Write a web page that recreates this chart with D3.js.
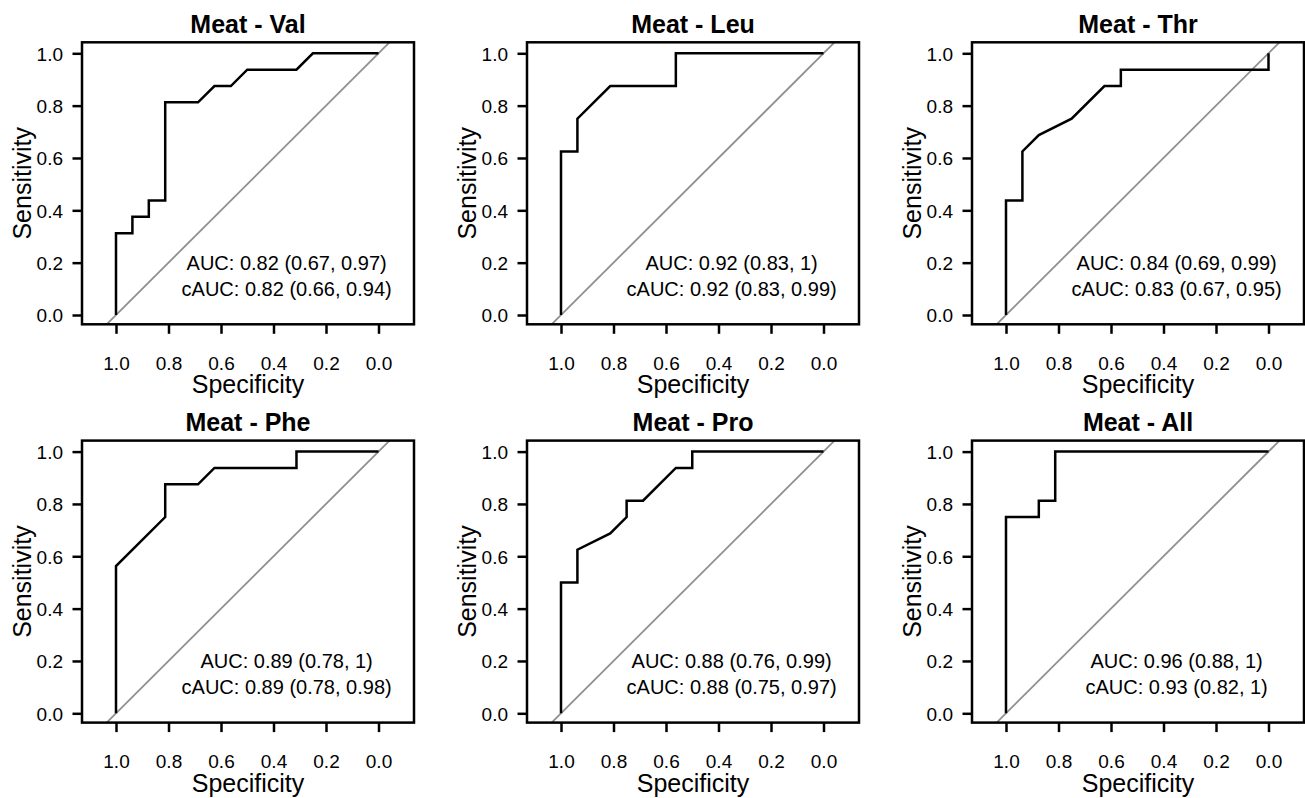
<!DOCTYPE html>
<html>
<head>
<meta charset="utf-8">
<script src="https://cdn.jsdelivr.net/npm/d3@7"></script>
<style>
  body { margin: 0; background: #fff; }
  svg { display: block; font-family: "Liberation Sans", Arial, sans-serif; }
</style>
</head>
<body>
<div id="chart"></div>
<script>
// panel titles and AUC labels
const titles = ["Meat - Val", "Meat - Leu", "Meat - Thr", "Meat - Phe", "Meat - Pro", "Meat - All"];
const aucLabels = [
  "AUC: 0.82 (0.67, 0.97)", "AUC: 0.92 (0.83, 1)", "AUC: 0.84 (0.69, 0.99)",
  "AUC: 0.89 (0.78, 1)", "AUC: 0.88 (0.76, 0.99)", "AUC: 0.96 (0.88, 1)"
];
const cAucLabels = [
  "cAUC: 0.82 (0.66, 0.94)", "cAUC: 0.92 (0.83, 0.99)", "cAUC: 0.83 (0.67, 0.95)",
  "cAUC: 0.89 (0.78, 0.98)", "cAUC: 0.88 (0.75, 0.97)", "cAUC: 0.93 (0.82, 1)"
];
const ticks = [1, 0.8, 0.6, 0.4, 0.2, 0];

// ROC curves (specificity, sensitivity)
const valSpec = [1, 1, 0.9375, 0.9375, 0.875, 0.875, 0.8125, 0.8125, 0.6875, 0.625, 0.5625, 0.5, 0.3125, 0.25, 0];
const valSens = [0, 0.3125, 0.3125, 0.375, 0.375, 0.4375, 0.4375, 0.8125, 0.8125, 0.875, 0.875, 0.9375, 0.9375, 1, 1];

const leuSpec = [1, 1, 0.9375, 0.9375, 0.8125, 0.5625, 0.5625, 0];
const leuSens = [0, 0.625, 0.625, 0.75, 0.875, 0.875, 1, 1];

const thrSpec = [1, 1, 0.9375, 0.9375, 0.875, 0.75, 0.625, 0.5625, 0.5625, 0, 0];
const thrSens = [0, 0.4375, 0.4375, 0.625, 0.6875, 0.75, 0.875, 0.875, 0.9375, 0.9375, 1];

const pheSpec = [1, 1, 0.8125, 0.8125, 0.6875, 0.625, 0.3125, 0.3125, 0];
const pheSens = [0, 0.5625, 0.75, 0.875, 0.875, 0.9375, 0.9375, 1, 1];

const proSpec = [1, 1, 0.9375, 0.9375, 0.8125, 0.75, 0.75, 0.6875, 0.5625, 0.5, 0.5, 0];
const proSens = [0, 0.5, 0.5, 0.625, 0.6875, 0.75, 0.8125, 0.8125, 0.9375, 0.9375, 1, 1];

const allSpec = [1, 1, 0.875, 0.875, 0.8125, 0.8125, 0];
const allSens = [0, 0.75, 0.75, 0.8125, 0.8125, 1, 1];

const specs = [valSpec, leuSpec, thrSpec, pheSpec, proSpec, allSpec];
const senss = [valSens, leuSens, thrSens, pheSens, proSens, allSens];

const W = 1305, H = 798;
const boxW = 332, boxH = 282;
const font = "Liberation Sans, Arial, sans-serif";

const svg = d3.select("#chart").append("svg")
  .attr("width", W)
  .attr("height", H);

titles.forEach((title, i) => {
  const col = i % 3, row = Math.floor(i / 3);
  const left = 82 + col * 445;
  const top = 42.3 + row * 398.3;

  const x = d3.scaleLinear().domain([1, 0]).range([left + 34, left + 296.5]);
  const y = d3.scaleLinear().domain([0, 1]).range([top + 272.7, top + 11]);

  const g = svg.append("g");

  // clip for the diagonal
  g.append("clipPath").attr("id", "clip" + i)
    .append("rect")
    .attr("x", left).attr("y", top)
    .attr("width", boxW).attr("height", boxH);

  g.append("line")
    .attr("clip-path", `url(#clip${i})`)
    .attr("x1", x(1.2)).attr("y1", y(-0.2))
    .attr("x2", x(-0.2)).attr("y2", y(1.2))
    .attr("stroke", "#909090")
    .attr("stroke-width", 1.8);

  const pts = specs[i].map((s, k) => [s, senss[i][k]]);
  g.append("path")
    .datum(pts)
    .attr("fill", "none")
    .attr("stroke", "#000")
    .attr("stroke-width", 2.5)
    .attr("stroke-linejoin", "miter")
    .attr("d", d3.line().x(d => x(d[0])).y(d => y(d[1])));

  // box
  g.append("rect")
    .attr("x", left).attr("y", top)
    .attr("width", boxW).attr("height", boxH)
    .attr("fill", "none")
    .attr("stroke", "#000")
    .attr("stroke-width", 2.5);

  // axes
  const xAxis = g.append("g")
    .attr("transform", `translate(0,${top + boxH})`)
    .call(d3.axisBottom(x).tickValues(ticks).tickSize(9.5).tickFormat(d3.format(".1f")));
  xAxis.select(".domain").remove();
  xAxis.selectAll("line").attr("stroke-width", 2.5);
  xAxis.selectAll("text")
    .attr("y", 45.5).attr("dy", null)
    .attr("font-size", 19).attr("font-family", font)
    .attr("fill", "#000");

  const yAxis = g.append("g")
    .attr("transform", `translate(${left},0)`)
    .call(d3.axisLeft(y).tickValues(ticks).tickSize(9.5).tickFormat(d3.format(".1f")));
  yAxis.select(".domain").remove();
  yAxis.selectAll("line").attr("stroke-width", 2.5);
  yAxis.selectAll("text")
    .attr("x", -19).attr("dy", "0.358em")
    .attr("font-size", 19).attr("font-family", font)
    .attr("fill", "#000");

  // labels
  g.append("text")
    .attr("x", left + boxW / 2).attr("y", top - 9.5)
    .attr("text-anchor", "middle")
    .attr("font-size", 25).attr("font-weight", "bold")
    .text(title);

  g.append("text")
    .attr("x", left + boxW / 2).attr("y", top + boxH + 69)
    .attr("text-anchor", "middle")
    .attr("font-size", 25)
    .text("Specificity");

  const lx = left - 51, ly = top + boxH / 2;
  g.append("text")
    .attr("transform", `translate(${lx},${ly}) rotate(-90)`)
    .attr("text-anchor", "middle")
    .attr("font-size", 25)
    .text("Sensitivity");

  g.append("text")
    .attr("x", x(0.35)).attr("y", y(0.2)).attr("dy", "0.358em")
    .attr("text-anchor", "middle")
    .attr("font-size", 20)
    .text(aucLabels[i]);

  g.append("text")
    .attr("x", x(0.35)).attr("y", y(0.1)).attr("dy", "0.358em")
    .attr("text-anchor", "middle")
    .attr("font-size", 20)
    .text(cAucLabels[i]);
});
</script>
</body>
</html>
